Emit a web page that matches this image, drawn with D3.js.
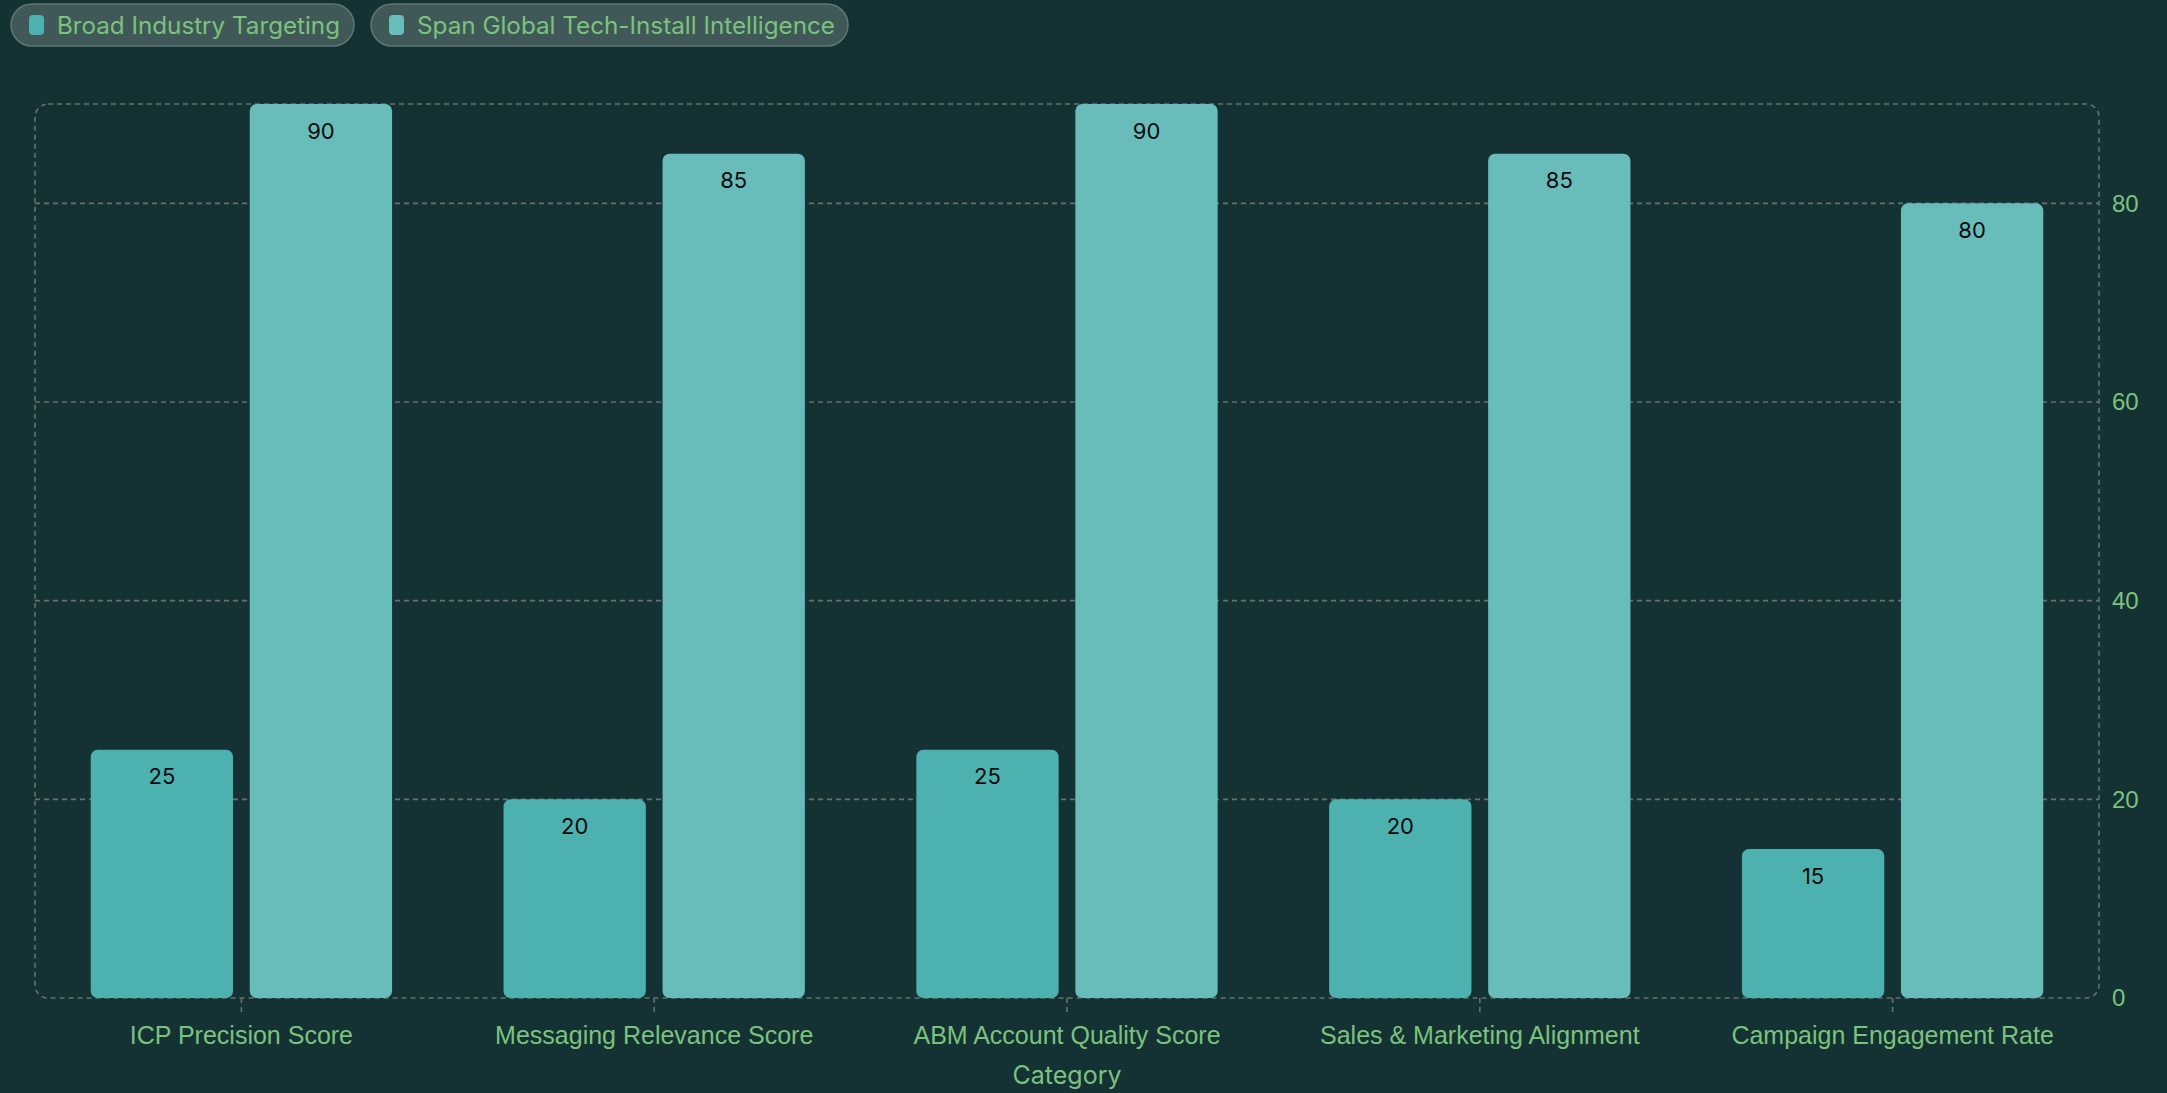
<!DOCTYPE html>
<html>
<head>
<meta charset="utf-8">
<script src="https://cdn.jsdelivr.net/npm/d3@7"></script>
<style>
  html, body { margin: 0; padding: 0; background: #143233; }
  svg { display: block; font-family: Inter, "Noto Sans", sans-serif; }
</style>
</head>
<body>
<svg id="chart" width="2167" height="1093"></svg>
<script>
// chart values
var categories = ["ICP Precision Score", "Messaging Relevance Score", "ABM Account Quality Score",
                  "Sales & Marketing Alignment", "Campaign Engagement Rate"];
var seriesNames = ["Broad Industry Targeting", "Span Global Tech-Install Intelligence"];
var broadValues = [25, 20, 25, 20, 15];
var spanValues = [90, 85, 90, 85, 80];
var yTicks = [0, 20, 40, 60, 80];

var colors = ["#4db2af", "#68bdbb"];
var textGreen = "#7bc27d";
var gridColor = "#686e6f";

var W = 2167, H = 1093;
var margin = {left: 35, right: 68, top: 104, bottom: 95};
var plotW = W - margin.left - margin.right;
var plotH = H - margin.top - margin.bottom;

var $svg = d3.select("#chart");

var x0 = d3.scaleBand().domain(categories).range([0, plotW]).paddingInner(0.27).paddingOuter(0.135);
var x1 = d3.scaleBand().domain([0, 1]).range([0, x0.bandwidth()]).paddingInner(0.105);
var y = d3.scaleLinear().domain([0, 90]).range([plotH, 0]);

var $g = $svg.append("g").attr("transform", `translate(${margin.left} ${margin.top})`);

// dashed frame
$g.append("rect")
    .attr("width", plotW).attr("height", plotH)
    .attr("rx", 13).attr("ry", 13)
    .attr("fill", "none")
    .attr("stroke", gridColor).attr("stroke-width", 1.6)
    .attr("stroke-dasharray", "5 4");

// gridlines
$g.selectAll(".grid").data(yTicks.filter(d => d > 0)).enter()
    .append("line")
    .attr("x1", 0).attr("x2", plotW)
    .attr("y1", d => y(d)).attr("y2", d => y(d))
    .attr("stroke", gridColor).attr("stroke-width", 1.6)
    .attr("stroke-dasharray", "5 4");

// right y axis labels
var yAxis = d3.axisRight(y).tickValues(yTicks).tickSize(0).tickPadding(13);
var $yAxis = $g.append("g").attr("transform", `translate(${plotW} 0)`).call(yAxis);
$yAxis.select(".domain").remove();
$yAxis.selectAll("text").attr("fill", textGreen).attr("font-size", 24);

// bottom axis with short dashed ticks
var xAxis = d3.axisBottom(x0).tickSize(0).tickPadding(0);
var $xAxis = $g.append("g").attr("transform", `translate(0 ${plotH})`).call(xAxis);
$xAxis.select(".domain").remove();
$xAxis.selectAll(".tick line")
    .attr("y2", 18).attr("stroke", gridColor).attr("stroke-width", 1.6)
    .attr("stroke-dasharray", "5 4");
$xAxis.selectAll(".tick text")
    .attr("fill", textGreen).attr("font-size", 25)
    .attr("y", 46).attr("dy", "0");

// axis title
$g.append("text")
    .attr("x", plotW / 2).attr("y", plotH + 86)
    .attr("text-anchor", "middle")
    .attr("fill", textGreen).attr("font-size", 25)
    .text("Category");

// bars
var rows = categories.map((c, i) => ({cat: c, vals: [broadValues[i], spanValues[i]]}));
var $groups = $g.selectAll(".grp").data(rows).enter()
    .append("g").attr("transform", d => `translate(${x0(d.cat)} 0)`);

$groups.selectAll("rect").data(d => d.vals.map((v, k) => ({v: v, k: k}))).enter()
    .append("rect")
    .attr("x", d => x1(d.k))
    .attr("y", d => y(d.v))
    .attr("width", x1.bandwidth())
    .attr("height", d => plotH - y(d.v))
    .attr("rx", 7).attr("ry", 7)
    .attr("fill", d => colors[d.k]);

$groups.selectAll("text").data(d => d.vals.map((v, k) => ({v: v, k: k}))).enter()
    .append("text")
    .attr("x", d => x1(d.k) + x1.bandwidth() / 2)
    .attr("y", d => y(d.v) + 27)
    .attr("dy", "0.35em")
    .attr("text-anchor", "middle")
    .attr("font-size", 22)
    .attr("fill", "#0b0b0b")
    .text(d => d.v);

// legend pills
var legendPos = [{x: 11, w: 343, tw: 283}, {x: 371, w: 477, tw: 418}];
var $legend = $svg.append("g");
seriesNames.forEach(function(name, i) {
    let lp = legendPos[i];
    let $item = $legend.append("g").attr("transform", `translate(${lp.x} 4)`);
    $item.append("rect")
        .attr("width", lp.w).attr("height", 42)
        .attr("rx", 21).attr("ry", 21)
        .attr("fill", "#405958")
        .attr("stroke", "#5e7675").attr("stroke-width", 1.5);
    $item.append("rect")
        .attr("x", 18).attr("y", 11).attr("width", 15).attr("height", 20)
        .attr("rx", 4).attr("fill", colors[i]);
    $item.append("text")
        .attr("x", 46).attr("y", 29.5)
        .attr("font-size", 24)
        .attr("fill", textGreen)
        .attr("textLength", lp.tw)
        .attr("lengthAdjust", "spacingAndGlyphs")
        .text(name);
});
</script>
</body>
</html>
